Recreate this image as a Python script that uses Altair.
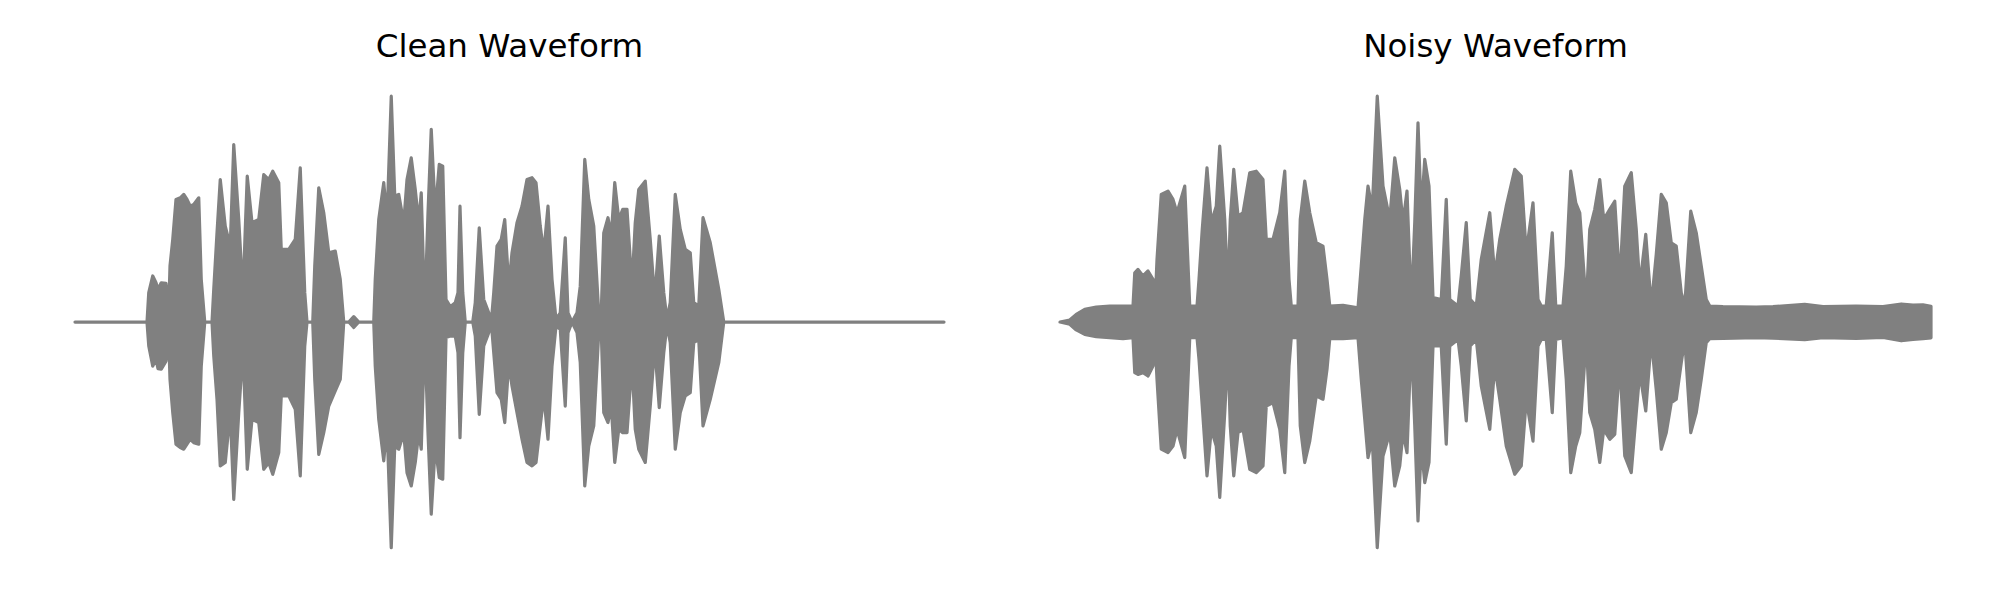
import altair as alt
import pandas as pd

# ---- Clean waveform envelope (time in ms, upper / lower amplitude, peak-normalised) ----
clean_t = [0, 288, 295, 311, 324, 332, 345, 364, 375, 380, 391, 404, 421, 435, 448, 461, 475, 495, 505, 519,
           548, 555, 568, 581, 601, 621, 635, 655, 672, 681, 689, 708, 735, 755, 775, 791, 815, 825, 855, 881,
           901, 919, 928, 951, 959, 975, 995, 1015, 1041, 1061, 1075, 1095, 1115, 1135,
           1195, 1201, 1215, 1235, 1248, 1265, 1279, 1295, 1315, 1328, 1345, 1361, 1375, 1385, 1399, 1412,
           1425, 1441, 1457, 1471, 1484, 1501, 1521, 1532, 1540, 1551, 1561, 1591, 1601, 1617, 1635, 1655,
           1665, 1675, 1688, 1705, 1719, 1735, 1748, 1768, 1788, 1808, 1828, 1844, 1861, 1875, 1892, 1908,
           1924, 1941, 1961, 1972, 1988, 2008, 2021, 2039, 2055, 2075, 2095, 2105, 2115, 2132, 2145, 2159,
           2175, 2191, 2208, 2228, 2241, 2255, 2281,
           2301, 2319, 2337, 2355, 2368, 2381, 2401, 2421, 2441, 2461, 2475, 2495, 2512, 2541, 2575, 2595, 3476]
clean_hi = [0, 0, 0.13, 0.204, 0.174, 0.145, 0.174, 0.171, 0.056, 0.248, 0.366, 0.543, 0.55, 0.565, 0.543, 0.513, 0.521, 0.55, 0.189, 0,
            0, 0.145, 0.395, 0.631, 0.425, 0.336, 0.786, 0.454, 0.115, 0.41, 0.646, 0.44, 0.454, 0.653, 0.631, 0.668, 0.617, 0.322, 0.322, 0.366,
            0.683, 0.13, 0, 0, 0.248, 0.594, 0.484, 0.307, 0.314, 0.189, 0, 0, 0.024, 0,
            0, 0.189, 0.454, 0.617, 0.454, 1.0, 0.558, 0.565, 0.44, 0.631, 0.727, 0.587, 0.44, 0.572, 0.041, 0.484,
            0.853, 0.484, 0.698, 0.69, 0.1, 0.068, 0.086, 0.13, 0.513, 0.13, 0, 0, 0.086, 0.417, 0.1, 0.041,
            0, 0.13, 0.336, 0.366, 0.454, 0.159, 0.307, 0.44, 0.513, 0.631, 0.639, 0.617, 0.425, 0.307, 0.513, 0.189,
            0.012, 0.041, 0.373, 0.041, 0, 0.041, 0.159, 0.72, 0.543, 0.425, 0.041, 0.041, 0.395, 0.462, 0.381, 0.617,
            0.454, 0.499, 0.499, 0.159, 0.44, 0.587, 0.624,
            0.366, 0.1, 0.381, 0.13, 0.012, 0.086, 0.565, 0.41, 0.322, 0.307, 0.086, 0.071, 0.462, 0.351, 0.145, 0, 0]
clean_lo = [0, 0, -0.106, -0.195, -0.165, -0.206, -0.209, -0.173, -0.077, -0.254, -0.401, -0.541, -0.556, -0.563, -0.541, -0.519, -0.534, -0.541, -0.195, 0,
            0, -0.15, -0.342, -0.637, -0.622, -0.401, -0.785, -0.401, -0.121, -0.401, -0.652, -0.431, -0.445, -0.652, -0.622, -0.674, -0.578, -0.327, -0.327, -0.386,
            -0.681, -0.106, 0, 0, -0.254, -0.586, -0.49, -0.372, -0.305, -0.254, 0, 0, -0.024, 0,
            0, -0.195, -0.431, -0.615, -0.46, -0.999, -0.549, -0.563, -0.49, -0.667, -0.726, -0.622, -0.49, -0.563, -0.047, -0.49,
            -0.851, -0.549, -0.689, -0.696, -0.069, -0.062, -0.062, -0.136, -0.512, -0.136, 0, 0, -0.062, -0.409, -0.106, -0.047,
            0, -0.136, -0.313, -0.342, -0.445, -0.18, -0.283, -0.401, -0.519, -0.622, -0.637, -0.622, -0.46, -0.327, -0.519, -0.195,
            -0.018, -0.032, -0.372, -0.047, 0, -0.047, -0.18, -0.726, -0.549, -0.46, -0.047, -0.04, -0.401, -0.445, -0.372, -0.622,
            -0.475, -0.49, -0.49, -0.18, -0.475, -0.563, -0.622,
            -0.372, -0.106, -0.379, -0.136, -0.012, -0.091, -0.563, -0.401, -0.327, -0.313, -0.091, -0.077, -0.46, -0.342, -0.18, 0, 0]

# ---- Noisy waveform envelope ----
noisy_t = [0, 39, 65, 99, 145, 199, 252, 292, 299, 312, 332, 352, 372, 380, 388, 405, 432, 452, 468, 499,
           519, 548, 556, 569, 588, 605, 625, 639, 659, 672, 681, 695, 712, 732, 759, 785, 812, 825, 852, 879,
           899, 916, 925, 952, 961, 979, 999, 1025, 1052, 1068, 1079, 1132,
           1192, 1205, 1219, 1232, 1249, 1269, 1292, 1319, 1339, 1359, 1372, 1388, 1405, 1419, 1432, 1445, 1459, 1476,
           1492, 1525, 1545, 1559, 1592, 1605, 1625, 1641, 1665, 1685, 1719, 1739, 1759, 1785, 1819, 1845, 1865, 1892,
           1912, 1925, 1945, 1969, 1983, 2012, 2025, 2043, 2063, 2079, 2105, 2119, 2139, 2159, 2175, 2199, 2219, 2239, 2259,
           2285, 2305, 2319, 2343, 2365, 2385, 2405, 2425, 2445, 2465, 2485, 2499, 2512, 2523, 2545, 2565, 2585, 2599,
           2652, 2785, 2852, 2979, 3052, 3185, 3292, 3365, 3412, 3452, 3484]
noisy_hi = [0, 0.009, 0.034, 0.056, 0.066, 0.071, 0.071, 0.071, 0.218, 0.233, 0.204, 0.226, 0.189, 0.071, 0.277, 0.565, 0.58, 0.543, 0.484, 0.602,
            0.071, 0.071, 0.189, 0.41, 0.683, 0.44, 0.513, 0.779, 0.454, 0.13, 0.454, 0.676, 0.469, 0.484, 0.661, 0.668, 0.631, 0.366, 0.366, 0.484,
            0.668, 0.189, 0.071, 0.071, 0.454, 0.624, 0.484, 0.351, 0.336, 0.189, 0.071, 0.074,
            0.063, 0.248, 0.454, 0.602, 0.499, 1.0, 0.602, 0.454, 0.727, 0.587, 0.44, 0.58, 0.071, 0.44, 0.882, 0.484, 0.72, 0.602,
            0.108, 0.1, 0.543, 0.1, 0.071, 0.204, 0.44, 0.1, 0.071, 0.277, 0.484, 0.204, 0.366, 0.513, 0.676, 0.646, 0.307, 0.528,
            0.1, 0.071, 0.071, 0.395, 0.071, 0.071, 0.248, 0.668, 0.528, 0.484, 0.071, 0.41, 0.499, 0.631, 0.454, 0.499, 0.535, 0.174, 0.602,
            0.661, 0.41, 0.159, 0.388, 0.071, 0.3, 0.565, 0.528, 0.351, 0.336, 0.13, 0.071, 0.3, 0.491, 0.395, 0.248, 0.1, 0.071,
            0.068, 0.066, 0.068, 0.078, 0.068, 0.071, 0.068, 0.08, 0.075, 0.076, 0.07]
noisy_lo = [0, -0.01, -0.035, -0.055, -0.065, -0.069, -0.074, -0.069, -0.224, -0.232, -0.224, -0.239, -0.195, -0.077, -0.254, -0.563, -0.578, -0.549, -0.475, -0.6,
            -0.069, -0.069, -0.165, -0.372, -0.681, -0.475, -0.549, -0.777, -0.401, -0.121, -0.46, -0.681, -0.49, -0.475, -0.652, -0.667, -0.637, -0.372, -0.357, -0.475,
            -0.667, -0.195, -0.069, -0.069, -0.46, -0.622, -0.527, -0.327, -0.342, -0.209, -0.074, -0.074,
            -0.069, -0.254, -0.431, -0.6, -0.519, -0.999, -0.593, -0.49, -0.726, -0.637, -0.49, -0.578, -0.077, -0.46, -0.881, -0.549, -0.711, -0.622,
            -0.106, -0.106, -0.541, -0.106, -0.077, -0.195, -0.438, -0.106, -0.077, -0.283, -0.475, -0.195, -0.342, -0.549, -0.674, -0.637, -0.342, -0.527,
            -0.106, -0.077, -0.077, -0.401, -0.077, -0.069, -0.254, -0.667, -0.549, -0.49, -0.077, -0.401, -0.475, -0.622, -0.475, -0.519, -0.497, -0.18, -0.593,
            -0.667, -0.401, -0.224, -0.394, -0.077, -0.3, -0.563, -0.49, -0.357, -0.342, -0.18, -0.077, -0.3, -0.49, -0.401, -0.254, -0.091, -0.074,
            -0.072, -0.069, -0.071, -0.078, -0.069, -0.072, -0.068, -0.083, -0.077, -0.074, -0.07]

titles = ["Clean Waveform", "Noisy Waveform"]

GRAY = "#808080"
H = 548


def panel(t, hi, lo, title, width, tmax):
    df = pd.DataFrame({"t": t, "hi": hi, "lo": lo})
    x = alt.X("t:Q", scale=alt.Scale(domain=[0, tmax], nice=False, zero=False), axis=None)
    wave = alt.Chart(df).mark_area(
        color=GRAY, stroke=GRAY, strokeWidth=3.2, strokeJoin="round", strokeCap="round",
        interpolate="linear", opacity=1
    ).encode(
        x=x,
        y=alt.Y("hi:Q", scale=alt.Scale(domain=[-1.098, 1.3286], nice=False, zero=False), axis=None),
        y2="lo:Q",
    )
    label = alt.Chart(pd.DataFrame({"title": [title]})).mark_text(
        font="DejaVu Sans", fontSize=32.5, color="black", baseline="alphabetic", align="center"
    ).encode(
        text="title:N",
        x=alt.value(width / 2),
        y=alt.value(34.8),
    )
    return alt.layer(wave, label).properties(width=width, height=H)


left = panel(clean_t, clean_hi, clean_lo, titles[0], 869, 3476)
right = panel(noisy_t, noisy_hi, noisy_lo, titles[1], 871, 3484)

chart = alt.hconcat(left, right, spacing=112).properties(
    padding={"left": 65, "top": 14, "right": 5, "bottom": 5},
    background="white",
).configure_view(stroke=None, strokeWidth=0)

chart.save("out.html", embed_options={"renderer": "svg", "actions": False})
